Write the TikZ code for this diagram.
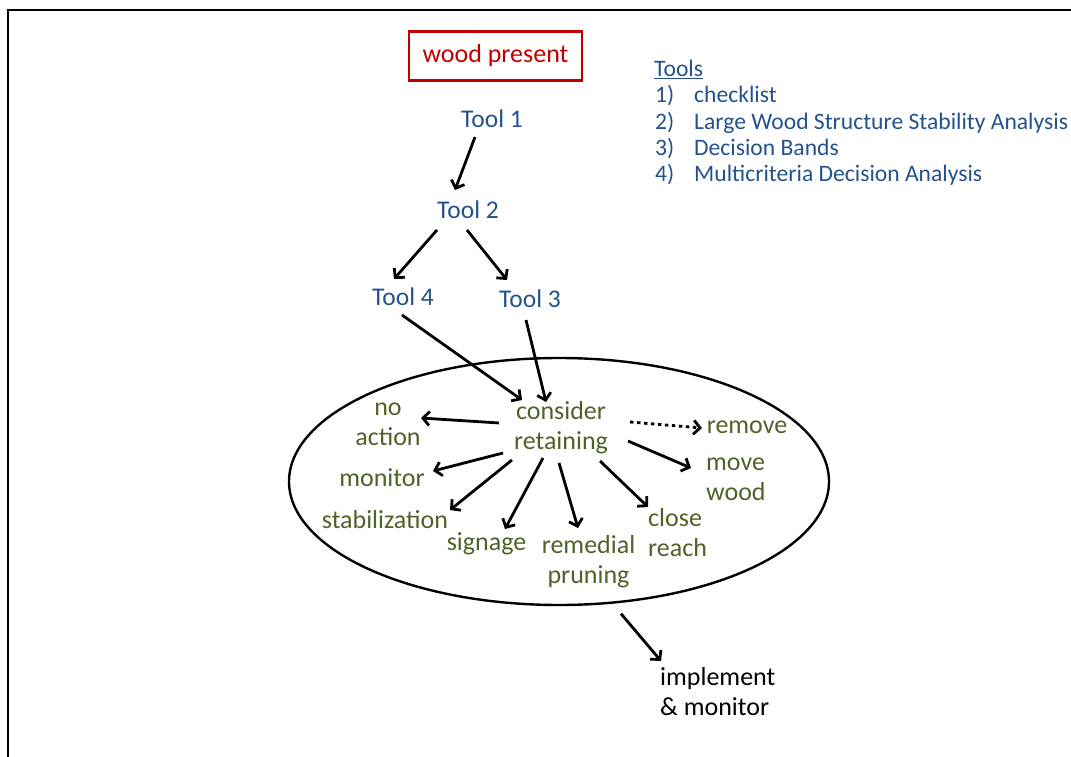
\documentclass[tikz,border=0pt]{standalone}
\usepackage{fontspec}
\setmainfont{Carlito}
\usetikzlibrary{arrows.meta,shapes.geometric,calc}
\definecolor{tblue}{HTML}{24528C}
\definecolor{tgreen}{HTML}{4F6228}
\definecolor{tred}{HTML}{C00000}
\begin{document}
\begin{tikzpicture}[x=1pt,y=-1pt,
  arr/.style={line width=2.8pt,-{Straight Barb[length=6.5pt,width=14pt]}},
  dotarr/.style={arr,dash pattern=on 3.5pt off 3.5pt},
  tool/.style={text=tblue,font=\fontsize{25.5}{29}\selectfont,anchor=base,inner sep=0pt},
  grn/.style={text=tgreen,font=\fontsize{26}{29.5}\selectfont,anchor=base,inner sep=0pt,align=center},
  grnl/.style={grn,anchor=base west,align=left},
  leg/.style={text=tblue,font=\fontsize{23.6}{26}\selectfont,anchor=base west,inner sep=0pt},
  blk/.style={text=black,font=\fontsize{26}{30}\selectfont,anchor=base west,inner sep=0pt,align=left},
  redbox/.style={draw=tred,line width=2.2pt,text=tred,font=\fontsize{26}{30}\selectfont,minimum width=173pt,minimum height=49pt,inner sep=0pt},
  oval/.style={ellipse,draw,line width=2.4pt,minimum width=540pt,minimum height=247pt,inner sep=0pt}]
\useasboundingbox (0,0) rectangle (1071,757);
% frame
\coordinate (fb) at (8,757);
\coordinate (ftl) at (8,10);
\coordinate (fr) at (1071,10);
\draw[line width=2pt] (fb) -- (ftl) -- (fr);
% ellipse
\node[oval] (ell) at (559,481.5) {};
% top
\node[redbox] (wood) at (495.5,56) {wood present};
\node[tool] (t1) at (492,128) {Tool 1};
\node[tool] (t2) at (468,218) {Tool 2};
\node[tool] (t4) at (403,305) {Tool 4};
\node[tool] (t3) at (530,307) {Tool 3};
% legend
\node[leg] (lh) at (654,76.5) {\underline{Tools}};
\node[leg] (l1n) at (655,102.8) {1)};
\node[leg] (l1) at (694,102.8) {checklist};
\node[leg] (l2n) at (655,129.1) {2)};
\node[leg] (l2) at (694,129.1) {Large Wood Structure Stability Analysis};
\node[leg] (l3n) at (655,155.4) {3)};
\node[leg] (l3) at (694,155.4) {Decision Bands};
\node[leg] (l4n) at (655,181.7) {4)};
\node[leg] (l4) at (694,181.7) {Multicriteria Decision Analysis};
% inner (base = baseline of last line)
\node[grn] (cons) at (561,449) {consider\\retaining};
\node[grn] (noact) at (388,445) {no\\action};
\node[grn] (rem) at (747,433) {remove};
\node[grn] (mon) at (382,486) {monitor};
\node[grnl] (mov) at (706,500) {move\\wood};
\node[grn] (stab) at (385,528) {stabilization};
\node[grn] (sign) at (486.5,550) {signage};
\node[grn] (remp) at (588.5,583) {remedial\\pruning};
\node[grnl] (clo) at (648,556) {close\\reach};
\node[blk] (impl) at (660,715) {implement\\\& monitor};
% arrows
\draw[arr] ($(t1.base)+(-17,9)$) -- ($(t2.base)+(-13,-28)$);
\draw[arr] ($(t2.base)+(-31,12)$) -- ($(t4.base)+(-9,-26)$);
\draw[arr] ($(t2.base)+(-1,12)$) -- ($(t3.base)+(-23,-27)$);
\draw[arr] ($(t4.base)+(-1,10)$) -- ($(cons.base)+(-39,-49)$);
\draw[arr] ($(t3.base)+(-4,13)$) -- ($(cons.base)+(-15,-47)$);
\draw[arr] ($(cons.base)+(-62,-26)$) -- ($(noact.base)+(33,-27)$);
\draw[dotarr] ($(cons.base)+(69,-27)$) -- ($(rem.base)+(-45,-5)$);
\draw[arr] ($(cons.base)+(-58,4)$) -- ($(mon.base)+(51,-15)$);
\draw[arr] ($(cons.base)+(-49,11)$) -- ($(stab.base)+(65,-18)$);
\draw[arr] ($(cons.base)+(-18,9)$) -- ($(sign.base)+(18.5,-21)$);
\draw[arr] ($(cons.base)+(-2,14)$) -- ($(remp.base)+(-10.5,-55)$);
\draw[arr] ($(cons.base)+(39,12)$) -- ($(clo.base west)+(0,-49)$);
\draw[arr] ($(cons.base)+(67,-8)$) -- ($(mov.base west)+(-15,-32)$);
\draw[arr] ($(ell.south)+(62,7.5)$) -- ($(impl.base west)+(1,-54)$);
\end{tikzpicture}
\end{document}
